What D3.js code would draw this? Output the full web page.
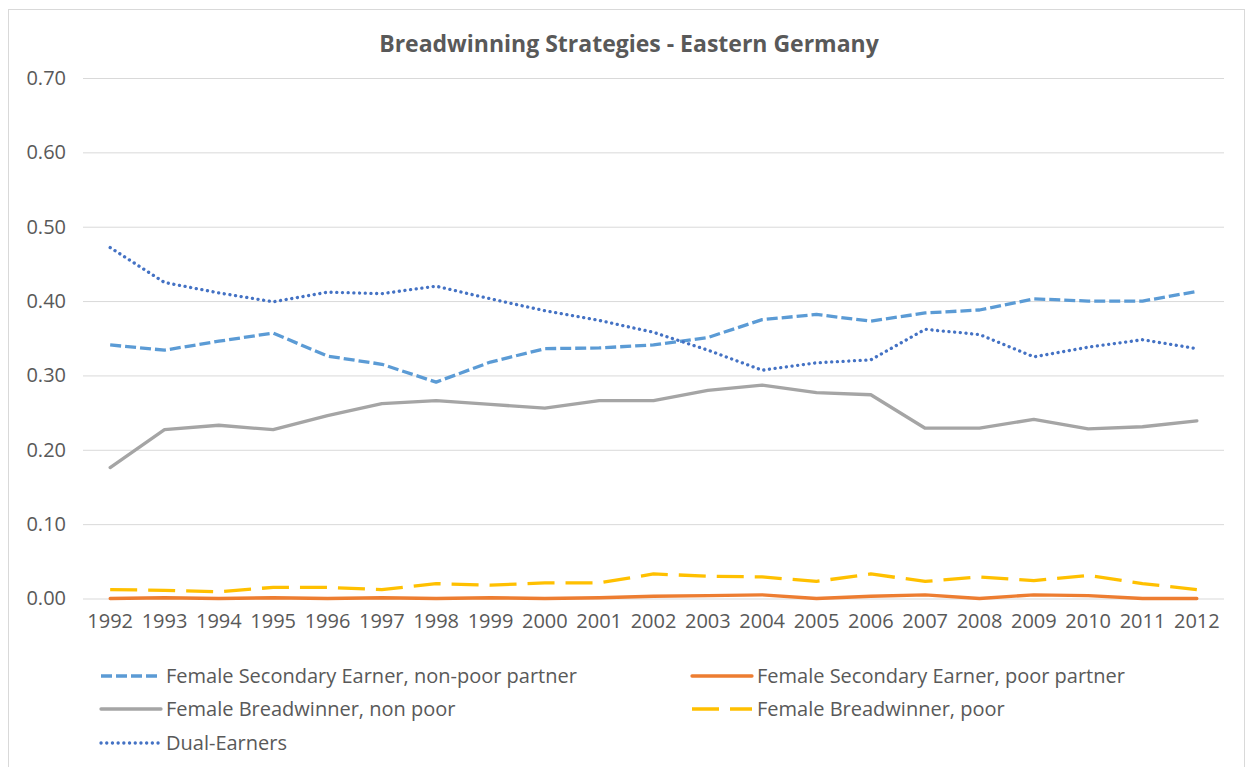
<!DOCTYPE html>
<html>
<head>
<meta charset="utf-8">
<script src="https://cdn.jsdelivr.net/npm/d3@7"></script>
<style>
  body { margin: 0; background: #fff; }
  svg { display: block; font-family: "Open Sans", sans-serif; }
</style>
</head>
<body>
<div id="chart"></div>
<script>
const years = ["1992","1993","1994","1995","1996","1997","1998","1999","2000","2001","2002",
  "2003","2004","2005","2006","2007","2008","2009","2010","2011","2012"];

const secondaryNonPoor = [0.341, 0.334, 0.346, 0.357, 0.326, 0.315, 0.291, 0.318, 0.336, 0.337, 0.341,
  0.351, 0.375, 0.382, 0.373, 0.384, 0.388, 0.403, 0.400, 0.400, 0.413];
const secondaryPoor = [0.000, 0.001, 0.000, 0.001, 0.000, 0.001, 0.000, 0.001, 0.000, 0.001, 0.003,
  0.004, 0.005, 0.000, 0.003, 0.005, 0.000, 0.005, 0.004, 0.000, 0.000];
const breadwinnerNonPoor = [0.176, 0.227, 0.233, 0.227, 0.246, 0.262, 0.266, 0.261, 0.256, 0.266, 0.266,
  0.280, 0.287, 0.277, 0.274, 0.229, 0.229, 0.241, 0.228, 0.231, 0.239];
const breadwinnerPoor = [0.012, 0.011, 0.009, 0.015, 0.015, 0.012, 0.020, 0.018, 0.021, 0.021, 0.033,
  0.030, 0.029, 0.023, 0.033, 0.023, 0.029, 0.024, 0.031, 0.020, 0.012];
const dualEarners = [0.472, 0.425, 0.411, 0.399, 0.412, 0.410, 0.420, 0.403, 0.387, 0.374, 0.358,
  0.334, 0.307, 0.317, 0.321, 0.362, 0.355, 0.325, 0.338, 0.348, 0.336];

const yTicks = [0, 0.1, 0.2, 0.3, 0.4, 0.5, 0.6, 0.7];

const series = [
  { name: "Female Secondary Earner, non-poor partner", values: secondaryNonPoor, color: "#5b9bd5", dash: "11,4", cap: "butt" },
  { name: "Female Secondary Earner, poor partner", values: secondaryPoor, color: "#ed7d31", dash: null, cap: "round" },
  { name: "Female Breadwinner, non poor", values: breadwinnerNonPoor, color: "#a5a5a5", dash: null, cap: "round" },
  { name: "Female Breadwinner, poor", values: breadwinnerPoor, color: "#ffc000", dash: "27,11", cap: "butt" },
  { name: "Dual-Earners", values: dualEarners, color: "#4472c4", dash: "0.1,5.6", cap: "round" }
];

const width = 1252, height = 767;
const plot = { left: 83, right: 1224, top: 78, bottom: 598.5 };

const svg = d3.select("#chart").append("svg")
  .attr("width", width)
  .attr("height", height);

// chart frame
svg.append("rect")
  .attr("x", 8.5).attr("y", 9.5)
  .attr("width", 1236).attr("height", 800)
  .attr("fill", "#fff")
  .attr("stroke", "#d9d9d9")
  .attr("stroke-width", 1);

const xScale = d3.scaleBand().domain(years).range([plot.left, plot.right]);
const yScale = d3.scaleLinear().domain([0, 0.7]).range([plot.bottom, plot.top]);
const xPos = d => xScale(d) + xScale.bandwidth() / 2;

svg.append("text")
  .attr("x", 629)
  .attr("y", 52)
  .attr("text-anchor", "middle")
  .attr("font-size", "23px")
  .attr("font-weight", "bold")
  .attr("fill", "#595959")
  .text("Breadwinning Strategies - Eastern Germany");

// gridlines + y labels
const yAxis = svg.append("g")
  .attr("transform", `translate(${plot.left},0)`)
  .call(d3.axisLeft(yScale).tickValues(yTicks).tickFormat(d3.format(".2f"))
    .tickSize(-(plot.right - plot.left)).tickPadding(17));
yAxis.select(".domain").remove();
yAxis.selectAll(".tick line").attr("stroke", "#d9d9d9").attr("stroke-width", 1);
yAxis.selectAll(".tick text")
  .attr("fill", "#595959")
  .attr("font-size", "20px")
  .attr("font-family", "Open Sans, sans-serif");

const xAxis = svg.append("g")
  .attr("transform", `translate(0,${plot.bottom})`)
  .call(d3.axisBottom(xScale).tickSize(0).tickPadding(15));
xAxis.select(".domain").remove();
xAxis.selectAll(".tick text")
  .attr("fill", "#595959")
  .attr("font-size", "20px")
  .attr("font-family", "Open Sans, sans-serif");

const line = d3.line()
  .x((d, i) => xPos(years[i]))
  .y(d => yScale(d));

svg.append("g").selectAll("path")
  .data(series)
  .join("path")
  .attr("d", d => line(d.values))
  .attr("fill", "none")
  .attr("stroke", d => d.color)
  .attr("stroke-width", 3.3)
  .attr("stroke-linejoin", "round")
  .attr("stroke-linecap", d => d.cap)
  .attr("stroke-dasharray", d => d.dash);

// legend
const legendCols = [101, 692];
const legendRows = [676, 709, 743];
const legend = svg.append("g").selectAll("g")
  .data(series)
  .join("g")
  .attr("transform", (d, i) => `translate(${legendCols[i % 2]},${legendRows[Math.floor(i / 2)]})`);

legend.append("line")
  .attr("x1", 0).attr("x2", 60)
  .attr("stroke", d => d.color)
  .attr("stroke-width", 3.3)
  .attr("stroke-linecap", d => d.cap)
  .attr("stroke-dasharray", d => d.dash);

legend.append("text")
  .attr("x", 65)
  .attr("dy", "0.35em")
  .attr("font-size", "20px")
  .attr("fill", "#595959")
  .text(d => d.name);
</script>
</body>
</html>
